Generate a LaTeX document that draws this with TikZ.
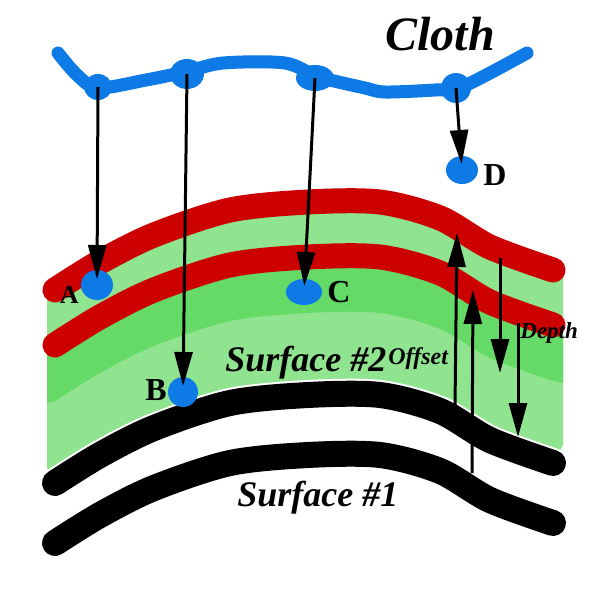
\documentclass[tikz,border=0pt]{standalone}
\usepackage{fontspec}
\setmainfont{Liberation Serif}
\usetikzlibrary{arrows.meta,positioning,shapes.geometric}

\definecolor{redc}{HTML}{CC0000}
\definecolor{bluec}{HTML}{0E7AE6}
\definecolor{lightgreen}{HTML}{90E490}
\definecolor{darkgreen}{HTML}{66DA66}

\tikzset{
  redband/.style={draw=redc, line width=12.5pt, line cap=round},
  blackband/.style={draw=black, line width=13pt, line cap=round},
  whiteedge/.style={draw=white, line width=15pt, line cap=round},
  clothline/.style={draw=bluec, line width=6.5pt, line cap=round, line join=round},
  knot/.style={ellipse, fill=bluec, inner sep=0pt},
  spot/.style={ellipse, fill=bluec, inner sep=0pt},
  pointer/.style={line width=1.5pt, -{Triangle[length=17pt,width=9pt]}},
  letter/.style={font=\fontsize{16}{16}\selectfont\bfseries, inner sep=0pt},
  tag/.style={font=\fontsize{18}{18}\selectfont\bfseries\itshape, inner sep=0pt},
  smalltag/.style={font=\fontsize{12}{12}\selectfont\bfseries\itshape, inner sep=0pt}
}

\begin{document}
\begin{tikzpicture}[x=0.5pt,y=-0.5pt]
  \useasboundingbox (0,0) rectangle (600,600);
  \def\yr{290} \def\yrr{345} \def\yg{401} \def\yb{483} \def\ybb{543}
  % green layers
  \fill[lightgreen] (47,\yr+8) -- plot[smooth] coordinates {(55,\yr) (100,\yr-28) (154,\yr-55) (230,\yr-80) (308,\yr-88) (380,\yr-88) (440,\yr-72) (490,\yr-43) (553,\yr-20)}
    -- (563,\yr-18) -- (563,\yb-38)
    -- plot[smooth] coordinates {(553,\yb-20) (490,\yb-43) (440,\yb-72) (380,\yb-88) (308,\yb-88) (230,\yb-80) (154,\yb-55) (100,\yb-28) (55,\yb)}
    -- (47,\yb-15) -- cycle;
  \fill[darkgreen] (47,\yrr) -- plot[smooth] coordinates {(55,\yrr) (100,\yrr-28) (154,\yrr-55) (230,\yrr-80) (308,\yrr-88) (380,\yrr-88) (440,\yrr-72) (490,\yrr-43) (553,\yrr-20)}
    -- (563,\yrr-18) -- (563,\yg-18)
    -- plot[smooth] coordinates {(553,\yg-20) (490,\yg-43) (440,\yg-72) (380,\yg-88) (308,\yg-88) (230,\yg-80) (154,\yg-55) (100,\yg-28) (55,\yg)}
    -- (47,\yg+2) -- cycle;
  % surfaces
  \foreach \yy in {\yr,\yrr}
    \draw[redband] plot[smooth] coordinates {(55,\yy) (100,\yy-28) (154,\yy-55) (230,\yy-80) (308,\yy-88) (380,\yy-88) (440,\yy-72) (490,\yy-43) (553,\yy-20)};
  \foreach \yy in {\yb,\ybb} {
    \draw[whiteedge] plot[smooth] coordinates {(55,\yy) (100,\yy-28) (154,\yy-55) (230,\yy-80) (308,\yy-88) (380,\yy-88) (440,\yy-72) (490,\yy-43) (553,\yy-20)};
    \draw[blackband] plot[smooth] coordinates {(55,\yy) (100,\yy-28) (154,\yy-55) (230,\yy-80) (308,\yy-88) (380,\yy-88) (440,\yy-72) (490,\yy-43) (553,\yy-20)};
  }
  % cloth
  \draw[clothline] plot[smooth,tension=0.5] coordinates {(58,53) (77,75) (98,88) (146,80) (185,72) (223,63) (285,63) (319,77) (365,88) (385,92) (435,90) (462,87) (527,53)};
  \node[knot, minimum width=14pt, minimum height=13pt] (knotA) at (98,87) {};
  \node[knot, minimum width=17pt, minimum height=15pt] (knotB) at (187,74) {};
  \node[knot, minimum width=19pt, minimum height=13pt] (knotC) at (315,78) {};
  \node[knot, minimum width=15pt, minimum height=15pt] (knotD) at (456,88) {};
  % projected points
  \node[spot, minimum width=16pt, minimum height=15pt] (spotA) at (97,285) {};
  \node[spot, minimum width=15pt, minimum height=15pt] (spotB) at (183,392) {};
  \node[spot, minimum width=18pt, minimum height=13pt] (spotC) at (304,292) {};
  \node[spot, minimum width=16pt, minimum height=14pt] (spotD) at (462,170) {};
  \foreach \k in {A,B,C,D}
    \draw[pointer, shorten >=3pt] (knot\k.center) -- (spot\k.center);
  % offset and depth
  \coordinate (offLowA) at (455,407); \coordinate (offTopA) at (457,233);
  \coordinate (offLowB) at (472,473); \coordinate (offTopB) at (473,290);
  \coordinate (depTopA) at (500,258); \coordinate (depLowA) at (500,373);
  \coordinate (depTopB) at (518,323); \coordinate (depLowB) at (518,437);
  \draw[pointer] (offLowA) -- (offTopA);
  \draw[pointer] (offLowB) -- (offTopB);
  \draw[pointer] (depTopA) -- (depLowA);
  \draw[pointer] (depTopB) -- (depLowB);
  % labels
  \node[letter, font=\fontsize{13}{13}\selectfont\bfseries, anchor=base east] (labA) at (79,303) {A};
  \node[letter, anchor=base east] (labB) at (167,400) {B};
  \node[letter, anchor=base west] (labC) at (327,302) {C};
  \node[letter, anchor=base west] (labD) at (483,185) {D};
  \node[tag, font=\fontsize{24}{24}\selectfont\bfseries\itshape, anchor=base west] (cloth) at (385,50) {Cloth};
  \node[tag, anchor=base west] (surfTwo) at (225,371) {Surface \#2};
  \node[smalltag, anchor=base west] (offset) at (388,364) {Offset};
  \node[smalltag, font=\fontsize{11.5}{11.5}\selectfont\bfseries\itshape, anchor=base west] (depth) at (520,338) {Depth};
  \node[tag, anchor=base west] (surfOne) at (237,506) {Surface \#1};
\end{tikzpicture}
\end{document}
